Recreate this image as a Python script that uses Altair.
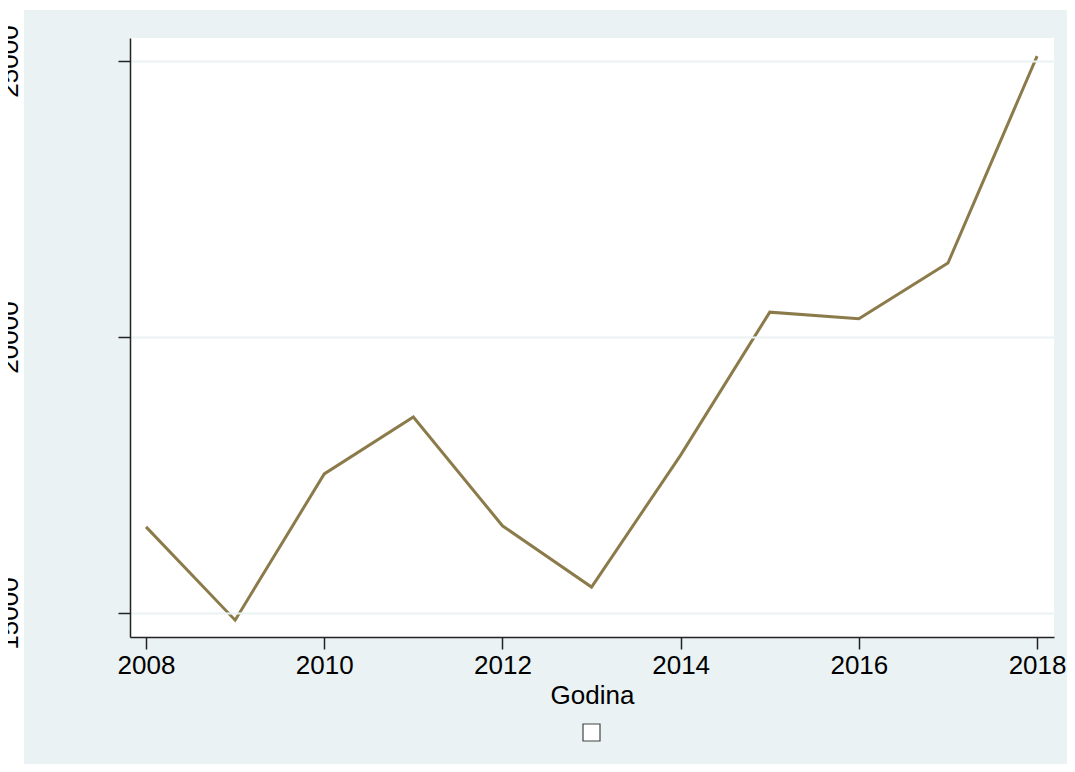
import altair as alt
import pandas as pd

years = [2008, 2009, 2010, 2011, 2012, 2013, 2014, 2015, 2016, 2017, 2018]
values = [16560, 14870, 17520, 18550, 16580, 15470, 17860, 20450, 20330, 21340, 25090]
y_ticks = [15000, 20000, 25000]
x_ticks = [2008, 2010, 2012, 2014, 2016, 2018]

df = pd.DataFrame({"Godina": years, "v": values, "s": [" "] * len(years)})

W, H = 924, 599
BG = "#EAF2F3"
LINE = "#8C7B4A"
FONT = "Liberation Sans"

xs = alt.Scale(domain=[2007.82, 2018.19], nice=False, zero=False)
ys = alt.Scale(domain=[14565, 25417], nice=False, zero=False)

bg = alt.Chart(df).mark_rect(color=BG, clip=False).encode(
    x=alt.value(-106), x2=alt.value(945), y=alt.value(-28), y2=alt.value(734)
).transform_filter(alt.datum.Godina == 2008)

plot_bg = alt.Chart(df).mark_rect(clip=False).encode(
    x=alt.value(0), x2=alt.value(W), y=alt.value(0), y2=alt.value(H),
    fill=alt.Fill("s:N", scale=alt.Scale(domain=[" "], range=["white"]),
                  legend=alt.Legend(title=None, orient="none", legendX=452, legendY=685,
                                    symbolType="square", symbolSize=289,
                                    symbolFillColor="white", symbolStrokeColor="#444",
                                    symbolStrokeWidth=1.2, labelFontSize=1,
                                    padding=0, direction="horizontal")),
).transform_filter(alt.datum.Godina == 2008)

line = alt.Chart(df).mark_line(strokeWidth=3, color=LINE).encode(
    x=alt.X("Godina:Q", scale=xs,
            axis=alt.Axis(values=x_ticks, format="d", grid=False, title="Godina",
                          tickSize=12, labelPadding=3, titlePadding=4, zindex=1)),
    y=alt.Y("v:Q", scale=ys,
            axis=alt.Axis(values=y_ticks, format="d", grid=True, title=None,
                          tickSize=12, labelAngle=270, labelAlign="center",
                          labelBaseline="alphabetic", labelPadding=101,
                          labelOverlap=False, labelFlush=False, zindex=1)),
)

chart = alt.layer(bg, plot_bg, line).properties(
    width=W, height=H,
    autosize=alt.AutoSizeParams(type="none"),
    padding={"left": 122, "top": 30, "right": 13, "bottom": 127},
    background="white",
).configure_view(stroke=None, fill=None).configure_axis(
    domainColor="#222", domainWidth=1.5, tickColor="#222", tickWidth=1.5,
    gridColor=BG, gridWidth=2,
    labelFont=FONT, labelFontSize=26, labelColor="black",
    titleFont=FONT, titleFontSize=26, titleColor="black", titleFontWeight="normal",
)

chart.save("out.html", embed_options={"renderer": "svg", "actions": False})
